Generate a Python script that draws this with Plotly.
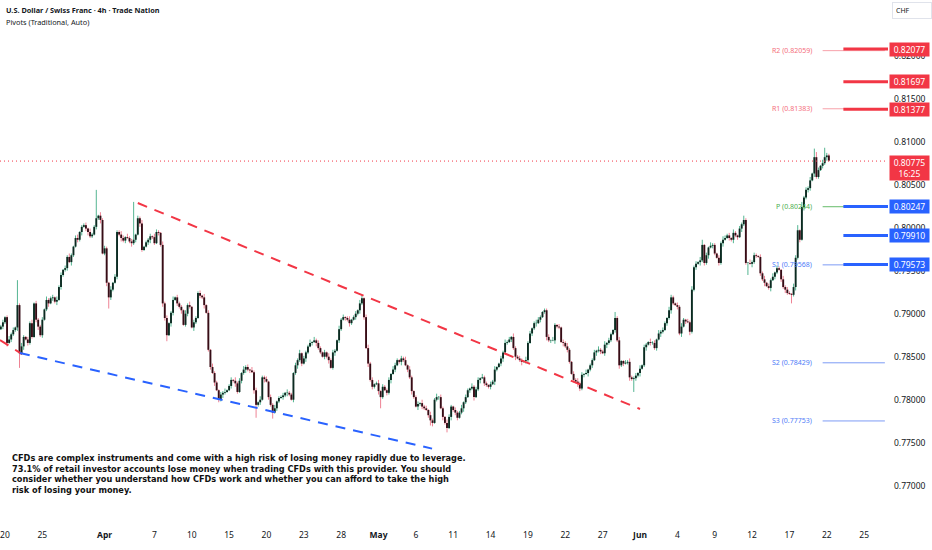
import plotly.graph_objects as go

# USD/CHF 4h candles

TITLE = "U.S. Dollar / Swiss Franc · 4h · Trade Nation"
SUBTITLE = "Pivots (Traditional, Auto)"
DISCLAIMER = [
    "CFDs are complex instruments and come with a high risk of losing money rapidly due to leverage.",
    "73.1% of retail investor accounts lose money when trading CFDs with this provider. You should",
    "consider whether you understand how CFDs work and whether you can afford to take the high",
    "risk of losing your money.",
]

FIRST_BAR = -2          # bar 0 = first 4h bar of 20 Mar
BARS_PER_DAY = 6
FIRST_OPEN = 7882       # prices below are in 1/10000 CHF

CLOSES = [
    7885, 7890, 7896, 7866, 7870, 7876, 7881, 7884, 7910, 7854,
    7862, 7873, 7870, 7866, 7889, 7873, 7912, 7893, 7885, 7875,
    7893, 7905, 7916, 7912, 7918, 7919, 7914, 7916, 7931, 7945,
    7951, 7953, 7966, 7960, 7968, 7978, 7988, 7986, 7995, 8001,
    8003, 7999, 7995, 7990, 7992, 8001, 8011, 8014, 8009, 7970,
    7976, 7936, 7919, 7928, 7936, 7943, 7995, 7992, 7988, 7985,
    7989, 7988, 7984, 7982, 7986, 7992, 8011, 8005, 7974, 7978,
    7983, 7986, 7990, 7989, 7982, 7995, 7994, 7980, 7912, 7895,
    7875, 7889, 7901, 7916, 7919, 7912, 7908, 7904, 7887, 7900,
    7910, 7908, 7884, 7890, 7895, 7924, 7921, 7919, 7910, 7901,
    7858, 7838, 7831, 7820, 7811, 7800, 7806, 7808, 7809, 7811,
    7816, 7823, 7822, 7819, 7809, 7822, 7831, 7835, 7838, 7835,
    7834, 7832, 7811, 7794, 7797, 7800, 7826, 7824, 7821, 7803,
    7794, 7785, 7790, 7798, 7802, 7803, 7805, 7808, 7808, 7806,
    7800, 7831, 7840, 7846, 7854, 7842, 7848, 7855, 7862, 7866,
    7867, 7869, 7866, 7860, 7855, 7850, 7855, 7850, 7846, 7837,
    7855, 7857, 7869, 7882, 7893, 7896, 7895, 7893, 7889, 7893,
    7896, 7900, 7904, 7912, 7918, 7896, 7860, 7842, 7823, 7815,
    7818, 7819, 7810, 7803, 7815, 7811, 7808, 7823, 7830, 7835,
    7840, 7846, 7844, 7848, 7846, 7840, 7835, 7826, 7810, 7803,
    7792, 7795, 7796, 7792, 7790, 7788, 7782, 7776, 7773, 7800,
    7803, 7803, 7790, 7780, 7773, 7767, 7780, 7792, 7788, 7785,
    7779, 7785, 7790, 7797, 7803, 7811, 7813, 7815, 7803, 7812,
    7823, 7825, 7826, 7819, 7817, 7815, 7818, 7821, 7835, 7838,
    7842, 7848, 7855, 7866, 7867, 7870, 7873, 7860, 7850, 7848,
    7846, 7844, 7845, 7846, 7866, 7877, 7883, 7889, 7889, 7893,
    7896, 7902, 7904, 7873, 7869, 7869, 7869, 7887, 7885, 7884,
    7867, 7866, 7862, 7858, 7844, 7830, 7823, 7821, 7819, 7813,
    7829, 7830, 7831, 7835, 7840, 7846, 7855, 7857, 7858, 7856,
    7854, 7864, 7866, 7869, 7876, 7881, 7895, 7869, 7840, 7845,
    7842, 7843, 7844, 7826, 7824, 7825, 7828, 7831, 7836, 7840,
    7861, 7864, 7867, 7866, 7866, 7860, 7870, 7877, 7879, 7881,
    7889, 7895, 7904, 7919, 7912, 7910, 7908, 7877, 7885, 7893,
    7891, 7890, 7879, 7928, 7954, 7958, 7960, 7962, 7980, 7959,
    7968, 7977, 7979, 7980, 7970, 7965, 7959, 7982, 7986, 7988,
    7991, 7988, 7986, 7994, 7991, 7989, 7999, 8004, 8009, 7959,
    7959, 7958, 7960, 7968, 7967, 7966, 7947, 7940, 7936, 7932,
    7930, 7939, 7943, 7948, 7953, 7951, 7940, 7931, 7928, 7924,
    7923, 7922, 7931, 7965, 7997, 7986, 8024, 8035, 8044, 8046,
    8055, 8063, 8082, 8059, 8067, 8072, 8075, 8082, 8084, 8078,
]

# wick length beyond the body, one digit per bar
WICK_UP = (
    "2312423132 4213241322 3142231423 1324213412 2314223142"
    "3214132243 1423213241 2231432142 3124132214 2413223141"
    "3142213241 2314231423 1423142231 3241223142 2132413224"
    "1423213142 3214231241 2314213423 1241322314 3213241421"
    "2314231422 4132143213 2241321423 3142213241 1324231422"
    "3214231243 2142314213 1324213242 3141223142 2413213241"
    "1324223141 3214231423 2143213242 1324231421 3142213243"
    "2314213242 1423213241 3241321423 2143214232 4132314232"
)
WICK_DN = (
    "1324132241 2413221342 3124132413 2231421324 1342213241"
    "2413213242 3124231421 1342213243 2143132412 3214213241"
    "2314132421 1324213242 3142231413 2413213242 1324231421"
    "3142213241 2413213242 1324231423 2143213241 3124213242"
    "1423213241 2314231423 3124213241 2413223142 1342213241"
    "2413213241 3124231422 1423213241 2314231423 1342213242"
    "3124213241 2413223142 1324213241 3142231423 2413213241"
    "1324231422 3142213241 2413213242 1324231423 3142213241"
)
# long wicks that stand out in the picture
HIGHS = {6: 7939, 44: 8044, 62: 8030, 172: 7922, 260: 7906, 294: 7902,
         336: 7986, 356: 8014, 382: 8003, 384: 8030, 390: 8092, 391: 8088, 395: 8093}
LOWS = {7: 7837, 50: 7906, 78: 7868, 121: 7779, 129: 7778, 181: 7790, 205: 7770,
        213: 7762, 277: 7810, 303: 7809, 358: 7945, 379: 7912}

DAY_LABELS = ["20", "25", "<b>Apr</b>", "7", "10", "15", "20", "23", "28", "<b>May</b>",
              "6", "11", "14", "19", "22", "27", "<b>Jun</b>", "4", "9", "12", "17", "22", "25"]
DAY_OFFSETS = [0, 3, 8, 12, 15, 18, 21, 24, 27, 30, 33, 36, 39, 42, 45, 48, 51,
               54, 57, 60, 63, 66, 69]

Y_TICKS = [0.770, 0.775, 0.780, 0.785, 0.790, 0.795, 0.800, 0.805, 0.810, 0.815, 0.820]

PIVOT_NAMES = ["R2", "R1", "P", "S1", "S2", "S3"]
PIVOT_LEVELS = [0.82059, 0.81383, 0.80244, 0.79568, 0.78429, 0.77753]
PIVOT_START = 394

LEVEL_PRICES = [0.82077, 0.81697, 0.81377, 0.80247, 0.79910, 0.79573]
LEVEL_SIDE = ["up", "up", "up", "down", "down", "down"]
LEVEL_START = 404

LAST_PRICE = 0.80775
COUNTDOWN = "16:25"

# trend lines: (bars, prices)
RED_TREND = ([64, 306], [0.80287, 0.77892])
BLUE_TREND = ([7.2, 205.8], [0.78543, 0.77431])
LEFT_TREND = ([-2.4, 8.2], [0.78694, 0.78530])

X_RANGE = [-2.4, 425.5]
Y_RANGE = [0.76508, 0.82648]

RED = "#f23645"
BLUE = "#2962ff"
TEXT = "#131722"
FONT = "Noto Sans"

# ---- build candles
n = len(CLOSES)
bars = list(range(FIRST_BAR, FIRST_BAR + n))
up_w = WICK_UP.replace(" ", "")
dn_w = WICK_DN.replace(" ", "")
opens = [FIRST_OPEN] + CLOSES[:-1]

wick = {"up": ([], []), "dn": ([], [])}
body = {"up": ([], []), "dn": ([], [])}
for i, b in enumerate(bars):
    o, c = opens[i], CLOSES[i]
    hi = HIGHS.get(b, max(o, c) + int(up_w[i]) if i < len(up_w) else max(o, c) + 2)
    lo = LOWS.get(b, min(o, c) - int(dn_w[i]) if i < len(dn_w) else min(o, c) - 2)
    side = "up" if c >= o else "dn"
    bot, top = min(o, c), max(o, c)
    if top - bot < 0.4:
        top = bot + 0.4
    xs, ys = wick[side]
    xs += [b, b, None]
    ys += [lo / 1e4, hi / 1e4, None]
    xs, ys = body[side]
    xs += [b, b, None]
    ys += [bot / 1e4, top / 1e4, None]

fig = go.Figure()

# wicks first, bodies drawn over them
fig.add_trace(go.Scatter(x=wick["up"][0], y=wick["up"][1], mode="lines",
                         line=dict(color="#55b592", width=1)))
fig.add_trace(go.Scatter(x=wick["dn"][0], y=wick["dn"][1], mode="lines",
                         line=dict(color="#ee8394", width=1)))
fig.add_trace(go.Scatter(x=body["up"][0], y=body["up"][1], mode="lines",
                         line=dict(color="#0c2a21", width=1.9)))
fig.add_trace(go.Scatter(x=body["dn"][0], y=body["dn"][1], mode="lines",
                         line=dict(color="#360d16", width=1.9)))

# trend lines
for (tx, ty), col in [(RED_TREND, RED), (LEFT_TREND, RED), (BLUE_TREND, BLUE)]:
    fig.add_trace(go.Scatter(x=tx, y=ty, mode="lines",
                             line=dict(color=col, width=2, dash="10px,8px")))

# last price dotted line
fig.add_trace(go.Scatter(x=X_RANGE, y=[LAST_PRICE, LAST_PRICE], mode="lines",
                         line=dict(color=RED, width=1, dash="1px,3px")))

# pivot lines and labels
pivot_line_col = {"R": "#f7a1aa", "P": "#66bb6a", "S": "#7d9cf5"}
pivot_text_col = {"R": "#f4707e", "P": "#4caf50", "S": "#4f7cf7"}
for name, lvl in zip(PIVOT_NAMES, PIVOT_LEVELS):
    k = name[0]
    fig.add_trace(go.Scatter(x=[PIVOT_START, X_RANGE[1] - 1.5], y=[lvl, lvl], mode="lines",
                             line=dict(color=pivot_line_col[k], width=1)))
    fig.add_annotation(x=PIVOT_START, y=lvl, xanchor="right", yanchor="middle", xshift=-9,
                       text=f"{name} ({lvl:.5f})", showarrow=False,
                       font=dict(family=FONT, size=7, color=pivot_text_col[k]))

# thick level lines + price tags
for p, side in zip(LEVEL_PRICES, LEVEL_SIDE):
    col = RED if side == "up" else BLUE
    fig.add_trace(go.Scatter(x=[LEVEL_START, X_RANGE[1]], y=[p, p], mode="lines",
                             line=dict(color=col, width=3)))
    fig.add_annotation(xref="paper", x=1, xanchor="left", xshift=1, y=p, yanchor="middle",
                       text=f"{p:.5f}", showarrow=False, bgcolor=col, width=37,
                       borderpad=1, font=dict(family=FONT, size=8.5, color="white"))

fig.add_annotation(xref="paper", x=1, xanchor="left", xshift=1, y=LAST_PRICE, yanchor="top",
                   yshift=6, text=f"{LAST_PRICE:.5f}<br>{COUNTDOWN}", showarrow=False,
                   bgcolor=RED, width=37, borderpad=1, align="center",
                   font=dict(family=FONT, size=8.5, color="white"))

# header texts
fig.add_annotation(xref="paper", yref="paper", x=0, y=1, xanchor="left", yanchor="top",
                   xshift=4, yshift=-3, text=f"<b>{TITLE}</b>", showarrow=False,
                   font=dict(family=FONT, size=7.3, color=TEXT))
fig.add_annotation(xref="paper", yref="paper", x=0, y=1, xanchor="left", yanchor="top",
                   xshift=4, yshift=-15, text=SUBTITLE, showarrow=False,
                   font=dict(family=FONT, size=7.3, color=TEXT))
fig.add_annotation(xref="paper", yref="paper", x=1, y=1, xanchor="left", yanchor="top",
                   xshift=4, yshift=-2, text="CHF", showarrow=False, width=32,
                   bordercolor="#e0e3eb", borderwidth=1, borderpad=3, align="left",
                   font=dict(family=FONT, size=7, color=TEXT))
fig.add_annotation(xref="paper", yref="paper", x=0, y=1 - 451 / 528, xanchor="left",
                   yanchor="top", xshift=10, text="<b>" + "<br>".join(DISCLAIMER) + "</b>",
                   showarrow=False, align="left",
                   font=dict(family="DejaVu Sans", size=8.2, color="#111111"))

fig.update_layout(
    template="none",
    width=932,
    height=550,
    margin=dict(l=0, r=44, t=0, b=22, pad=0),
    paper_bgcolor="white",
    plot_bgcolor="white",
    showlegend=False,
    hovermode=False,
    font=dict(family=FONT, size=8.5, color=TEXT),
)
fig.update_xaxes(
    automargin=False,
    range=X_RANGE,
    tickvals=[d * BARS_PER_DAY for d in DAY_OFFSETS],
    ticktext=DAY_LABELS,
    showgrid=False,
    zeroline=False,
    showline=False,
    ticks="",
    tickfont=dict(size=8.5, color=TEXT),
)
fig.update_yaxes(
    automargin=False,
    range=Y_RANGE,
    side="right",
    tickvals=Y_TICKS,
    ticktext=[f"{v:.5f}" for v in Y_TICKS],
    showgrid=False,
    zeroline=False,
    showline=False,
    ticks="",
    ticklabelstandoff=5,
    tickfont=dict(size=8.5, color=TEXT),
)

# the page's default 8px body margin would shift the figure
fig.write_html("out.html", config={"displayModeBar": False, "staticPlot": True},
               post_script="document.body.style.margin='0px';")
